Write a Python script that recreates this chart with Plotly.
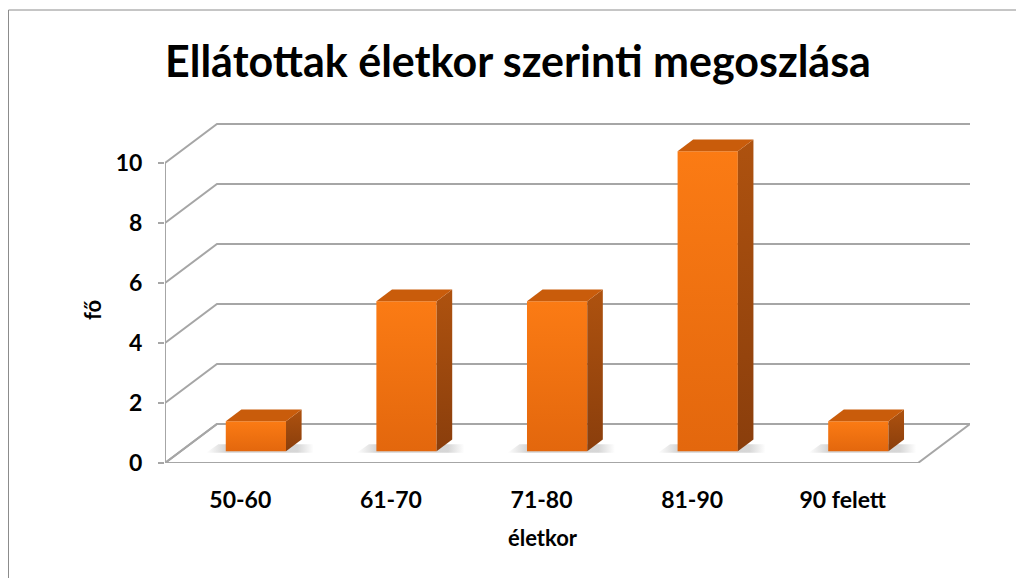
import plotly.graph_objects as go

# ---- data ----
categories = ["50-60", "61-70", "71-80", "81-90", "90 felett"]
values = [1, 5, 5, 10, 1]
y_ticks = [0, 2, 4, 6, 8, 10]
title_text = "Ellátottak életkor szerinti megoszlása"
x_title = "életkor"
y_title = "fő"

# ---- 3D-look geometry (in axis units) ----
DEPTH_X = 0.345   # full floor depth, x-units
DEPTH_Y = 1.3     # full floor depth, y-units
BAR_POS = 0.3     # bars sit at this fraction of depth
BAR_DEPTH = 0.3   # bar depth as a fraction of floor depth
BAR_W = 0.4

FONT = "Lato"
GRID_C = "#A6A6A6"

fig = go.Figure()

n = len(categories)
x_lo, x_hi = -0.5, n - 0.5


def line_trace(xs, ys):
    return go.Scatter(x=xs, y=ys, mode="lines", line=dict(color=GRID_C, width=2),
                      hoverinfo="skip", showlegend=False)


# floor outline
fig.add_trace(line_trace([x_lo, x_hi, x_hi + DEPTH_X, x_lo + DEPTH_X, x_lo],
                         [0, 0, DEPTH_Y, DEPTH_Y, 0]))
# gridlines: left wall diagonals + back wall
for v in y_ticks:
    fig.add_trace(line_trace([x_lo, x_lo + DEPTH_X, x_hi + DEPTH_X],
                             [v, v + DEPTH_Y, v + DEPTH_Y]))
# front-left vertical axis line
fig.add_trace(line_trace([x_lo, x_lo], [0, max(y_ticks)]))

bx = BAR_POS * DEPTH_X
by = BAR_POS * DEPTH_Y
sdx = BAR_DEPTH * DEPTH_X
sdy = BAR_DEPTH * DEPTH_Y

# soft shadows on the floor (left-back of each bar)
for i, v in enumerate(values):
    xc = i + bx
    xl, xr = xc - BAR_W / 2, xc + BAR_W / 2
    fig.add_trace(go.Scatter(
        x=[xl - 0.13, xr + sdx + 0.08, xr + sdx + 0.08, xl - 0.05, xl - 0.13],
        y=[by - 0.05, by - 0.05, by + sdy * 0.6, by + sdy * 0.6, by - 0.05],
        mode="lines", line=dict(width=0), fill="toself",
        fillgradient=dict(type="horizontal",
                          colorscale=[[0, "rgba(140,140,140,0)"], [0.2, "rgba(140,140,140,0.4)"],
                                      [0.85, "rgba(140,140,140,0.35)"], [1, "rgba(140,140,140,0)"]]),
        hoverinfo="skip", showlegend=False))

# bars: front, side, top faces
for i, v in enumerate(values):
    xc = i + bx
    xl, xr = xc - BAR_W / 2, xc + BAR_W / 2
    yb, yt = by, by + v
    fig.add_trace(go.Scatter(
        x=[xl, xr, xr, xl, xl], y=[yb, yb, yt, yt, yb],
        mode="lines", line=dict(width=0), fill="toself",
        fillgradient=dict(type="vertical", colorscale=[[0, "#E3670D"], [1, "#FB7B14"]]),
        name=categories[i], hovertext=f"{categories[i]}: {v}", hoverinfo="text",
        showlegend=False))
    fig.add_trace(go.Scatter(
        x=[xr, xr, xr + sdx, xr + sdx, xr],
        y=[yb, yt, yt + sdy, yb + sdy, yb],
        mode="lines", line=dict(width=0), fill="toself",
        fillgradient=dict(type="vertical", colorscale=[[0, "#8A3E0C"], [1, "#AE520F"]]),
        hoverinfo="skip", showlegend=False))
    fig.add_trace(go.Scatter(
        x=[xl, xr, xr + sdx, xl + sdx, xl],
        y=[yt, yt, yt + sdy, yt + sdy, yt],
        mode="lines", line=dict(width=0), fill="toself",
        fillcolor="#C95C0B",
        hoverinfo="skip", showlegend=False))

# layout (page body has an 8px margin, so the figure is shifted by 8px)
W, H = 1016, 570
L, T = 157, 112
PW, PH = 805, 343
R, B = W - L - PW, H - T - PH
y_top = PH / 30.0


def px_x(ax):  # absolute page x -> paper x
    return (ax - 8 - L) / PW


def px_y(ay):  # absolute page y -> paper y
    return (T + PH - (ay - 8)) / PH


fig.update_layout(
    width=W, height=H,
    margin=dict(l=L, r=R, t=T, b=B),
    paper_bgcolor="white", plot_bgcolor="white",
    hovermode="closest",
    title=dict(text=title_text, x=(518 - 8) / W, xref="container", y=1 - (62 - 8) / H,
               yref="container", xanchor="center", yanchor="middle",
               font=dict(family=FONT, size=43, color="black", weight="bold")),
    xaxis=dict(range=[x_lo, x_hi + DEPTH_X], tickvals=list(range(n)), ticktext=categories,
               showgrid=False, zeroline=False, showline=False, ticks="",
               ticklabelstandoff=21,
               tickfont=dict(family=FONT, size=23, color="black", weight="bold")),
    yaxis=dict(range=[0, y_top], tickvals=y_ticks, showgrid=False, zeroline=False,
               showline=False, ticks="outside", ticklen=6, tickcolor=GRID_C, tickwidth=2,
               ticklabelstandoff=11,
               tickfont=dict(family=FONT, size=23, color="black", weight="bold")),
    annotations=[
        dict(text=y_title, xref="paper", yref="paper", x=px_x(92), y=px_y(310),
             showarrow=False, textangle=-90, xanchor="center", yanchor="middle",
             font=dict(family=FONT, size=22, color="black", weight="bold")),
        dict(text=x_title, xref="paper", yref="paper", x=px_x(543), y=px_y(537),
             showarrow=False, xanchor="center", yanchor="middle",
             font=dict(family=FONT, size=22, color="black", weight="bold")),
    ],
    shapes=[dict(type="rect", xref="paper", yref="paper", x0=px_x(8.5), x1=1.3,
                 y0=-0.5, y1=px_y(10), line=dict(color="#8C8C8C", width=1),
                 layer="below")],
)

fig.write_html("out.html")
